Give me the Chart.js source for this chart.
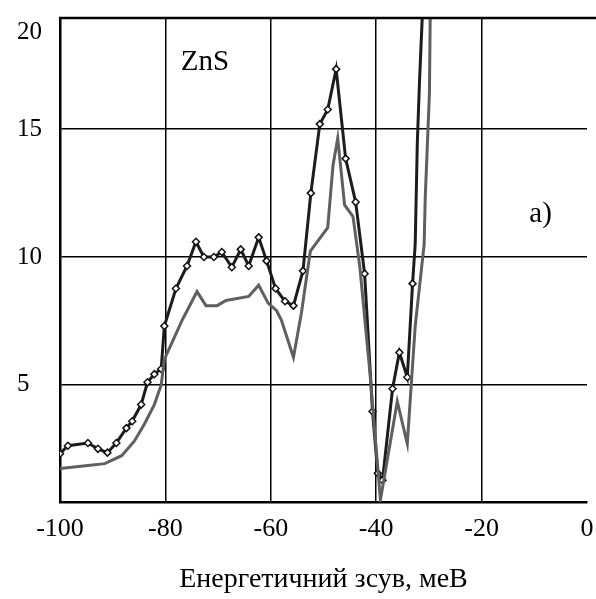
<!DOCTYPE html>
<html>
<head>
<meta charset="utf-8">
<script src="https://cdn.jsdelivr.net/npm/chart.js@4.4.1/dist/chart.umd.min.js"></script>
<style>
  html, body { margin: 0; padding: 0; background: #fff; }
  #wrap { width: 596px; height: 599px; }
</style>
</head>
<body>
<div id="wrap"><canvas id="shiftChart"></canvas></div>
<script>
// energy shift (meV) and intensity
const xBlack = [-100, -98.5, -94.7, -92.8, -91, -89.3, -87.4, -86.3, -84.6, -83.4, -82.1, -80.8, -80.2, -78, -75.9, -74.2, -72.7, -70.8, -69.3, -67.4, -65.7, -64.2, -62.3, -60.8, -59.1, -57.3, -55.7, -53.9, -52.4, -50.7, -49.2, -47.6, -45.8, -43.9, -42.2, -40.7, -39.7, -38.8, -36.9, -35.6, -34.1, -33.1, -32.6, -32.2, -31.8, -31.3, -31.0];
const yBlack = [2.31, 2.62, 2.73, 2.5, 2.35, 2.73, 3.31, 3.58, 4.23, 5.1, 5.42, 5.62, 7.3, 8.77, 9.65, 10.6, 10, 10, 10.2, 9.6, 10.3, 9.65, 10.77, 9.85, 8.77, 8.27, 8.1, 9.46, 12.5, 15.2, 15.77, 17.35, 13.85, 12.15, 9.35, 3.96, 1.54, 1.27, 4.85, 6.27, 5.3, 8.96, 10.5, 14.46, 16.77, 19.2, 20.5];

const xGray = [-100, -94.7, -91.5, -88.3, -85.9, -84, -82.1, -80.8, -80.2, -76.8, -74, -72.3, -70.2, -68.5, -64.2, -62.3, -60.5, -58.9, -58, -55.7, -54.2, -52.5, -49.2, -48.2, -47.3, -46, -44.4, -43.1, -41.2, -39.2, -36, -34.1, -32.6, -30.9, -30.7, -29.9, -29.7];
const yGray = [1.73, 1.85, 1.92, 2.23, 2.8, 3.46, 4.23, 5, 6, 7.54, 8.65, 8.1, 8.1, 8.3, 8.46, 8.9, 8.2, 7.9, 7.54, 6.08, 7.8, 10.23, 11.15, 13.58, 14.65, 12.04, 11.58, 9.6, 5.5, 0.5, 4.35, 2.7, 7.3, 10.5, 12.3, 16.4, 20.5];

const xTicks = [-100, -80, -60, -40, -20, 0];
const yTicks = [5, 10, 15];

const serif = '"Liberation Serif", "Times New Roman", serif';

// top frame line + the text labels
const frameAndText = {
    id: 'frameAndText',
    afterDraw(chart) {
        const ctx = chart.ctx;
        const area = chart.chartArea;
        const xs = chart.scales.x, ys = chart.scales.y;
        ctx.save();
        ctx.strokeStyle = '#000';
        ctx.lineWidth = 2.5;
        ctx.beginPath();
        ctx.moveTo(area.left - 1, area.top);
        ctx.lineTo(chart.width, area.top);
        ctx.stroke();

        ctx.fillStyle = '#000';
        ctx.textBaseline = 'middle';
        // "20" label sits a bit below the frame top
        ctx.font = '25px ' + serif;
        ctx.textAlign = 'left';
        ctx.fillText('20', 17, ys.getPixelForValue(18.8));
        ctx.font = '29px ' + serif;
        ctx.textAlign = 'center';
        ctx.fillText('ZnS', xs.getPixelForValue(-72.5), ys.getPixelForValue(17.6));
        ctx.fillText('a)', xs.getPixelForValue(-8.8), ys.getPixelForValue(11.65));
        ctx.restore();
    }
};

const ctx = document.getElementById('shiftChart').getContext('2d');
new Chart(ctx, {
    type: 'line',
    data: {
        datasets: [
            {
                data: xGray.map((x, i) => ({ x: x, y: yGray[i] })),
                borderColor: '#5f5f5f',
                borderWidth: 3,
                pointRadius: 0,
                tension: 0
            },
            {
                data: xBlack.map((x, i) => ({ x: x, y: yBlack[i] })),
                borderColor: '#1c1c1c',
                borderWidth: 3,
                pointStyle: 'rectRot',
                pointRadius: c => (c.dataIndex >= 42 ? 0 : 3.5),
                pointBackgroundColor: '#fff',
                pointBorderColor: '#111',
                pointBorderWidth: 1.5,
                tension: 0
            }
        ]
    },
    options: {
        responsive: true,
        maintainAspectRatio: false,
        animation: false,
        layout: { padding: { left: 17, top: 10, right: 9, bottom: 0 } },
        plugins: {
            legend: { display: false },
            tooltip: { enabled: false }
        },
        scales: {
            x: {
                type: 'linear',
                min: -100,
                max: 0,
                afterBuildTicks: scale => { scale.ticks = xTicks.map(v => ({ value: v })); },
                afterFit: scale => {
                    scale.height = 97;
                    scale.paddingRight = 0;
                    scale.paddingLeft = 0;
                },
                grid: {
                    drawTicks: false,
                    lineWidth: 1.5,
                    color: c => (c.tick && (c.tick.value === 0 || c.tick.value === -100) ? 'rgba(0,0,0,0)' : '#000')
                },
                border: { display: true, color: '#000', width: 2.5 },
                ticks: {
                    padding: 12,
                    color: '#000',
                    font: { family: serif, size: 26 },
                    maxRotation: 0
                },
                title: {
                    display: true,
                    text: 'Енергетичний зсув, меВ',
                    color: '#000',
                    font: { family: serif, size: 28 },
                    padding: { top: 0, bottom: 3 }
                }
            },
            y: {
                min: 0.42,
                max: 19.35,
                afterBuildTicks: scale => { scale.ticks = yTicks.map(v => ({ value: v })); },
                afterFit: scale => { scale.width = 43; },
                grid: { drawTicks: false, lineWidth: 1.5, color: '#000' },
                border: { display: true, color: '#000', width: 2.5 },
                ticks: {
                    crossAlign: 'far',
                    color: '#000',
                    font: { family: serif, size: 25 }
                }
            }
        }
    },
    plugins: [frameAndText]
});
</script>
</body>
</html>
